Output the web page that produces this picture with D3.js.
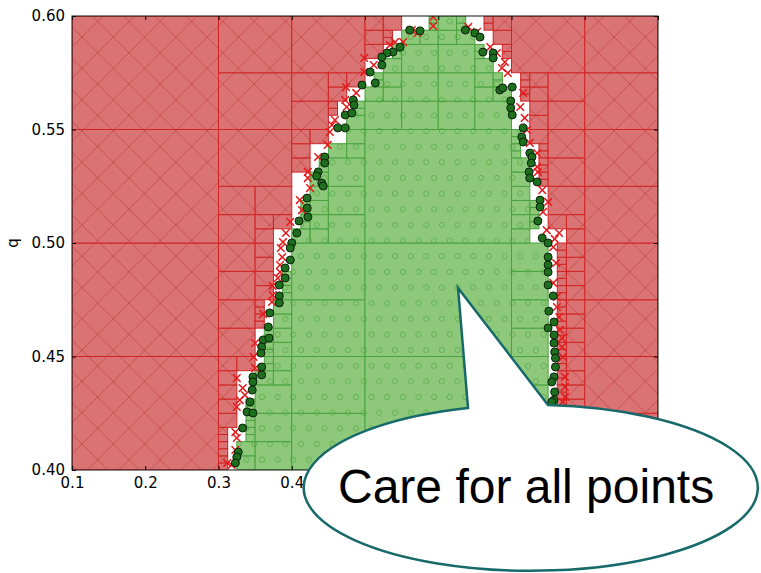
<!DOCTYPE html>
<html>
<head>
<meta charset="utf-8">
<script src="https://cdn.jsdelivr.net/npm/d3@7/dist/d3.min.js"></script>
<style>
  html, body { margin: 0; padding: 0; background: #fff; }
  svg { display: block; }
</style>
</head>
<body>
<svg id="chart" width="761" height="573"></svg>
<script>
/* Axis domains and ticks */
const xDomain = [0.1, 0.9]
const yDomain = [0.40, 0.60]
const xTicks = [0.1, 0.2, 0.3, 0.4, 0.5, 0.6, 0.7, 0.8, 0.9]
const yTicks = [0.40, 0.45, 0.50, 0.55, 0.60]
const yLabel = "q"
const calloutText = "Care for all points"

/* Refinement tree: root cell size and deepest level */
const rootSize = [0.2, 0.05]
const maxDepth = 4

/* Classified region per row (row height rowHeight, from q = 0.40 upward):
   red up to leftRedEnd, unresolved up to leftGreenStart, green up to rightGreenEnd,
   unresolved up to rightRedStart, red after that */
const rowHeight = 0.00625
const leftRedEnd = [0.3125, 0.3125, 0.3125, 0.325, 0.325, 0.325, 0.325, 0.35, 0.35, 0.35, 0.3625, 0.3625, 0.375, 0.375, 0.375, 0.375,
  0.375, 0.4, 0.4, 0.4, 0.4, 0.425, 0.425, 0.45, 0.45, 0.4625, 0.475, 0.5, 0.5, 0.525, 0.5375, 0.55]
const leftGreenStart = [0.325, 0.325, 0.3375, 0.3375, 0.3375, 0.35, 0.35, 0.3625, 0.3625, 0.3625, 0.375, 0.375, 0.3875, 0.3875, 0.4, 0.4,
  0.4, 0.4125, 0.4125, 0.425, 0.425, 0.4375, 0.45, 0.475, 0.475, 0.4875, 0.5, 0.5125, 0.525, 0.5375, 0.55, 0.5875]
const rightGreenEnd = [0.75, 0.75, 0.75, 0.75, 0.75, 0.75, 0.75, 0.75, 0.75, 0.75, 0.75, 0.75, 0.75, 0.75, 0.75, 0.75,
  0.725, 0.7375, 0.7375, 0.725, 0.725, 0.725, 0.7125, 0.7125, 0.7, 0.7, 0.7, 0.6875, 0.675, 0.6625, 0.65, 0.6375]
const rightRedStart = [0.7625, 0.7625, 0.7625, 0.7625, 0.7625, 0.7625, 0.7625, 0.7625, 0.7625, 0.7625, 0.7625, 0.7625, 0.7625, 0.7625, 0.7625, 0.7625,
  0.775, 0.75, 0.75, 0.75, 0.7375, 0.7375, 0.7375, 0.725, 0.725, 0.725, 0.7125, 0.7125, 0.7, 0.6875, 0.675, 0.6625]

/* Samples close to the boundary */
const feasiblePoints = [
  [0.561, 0.5938], [0.575, 0.5934], [0.548, 0.5863], [0.538, 0.5841], [0.530, 0.5837], [0.523, 0.5819], [0.523, 0.5784],
  [0.637, 0.5938], [0.650, 0.5925], [0.657, 0.5907], [0.661, 0.5841], [0.675, 0.5837], [0.675, 0.5815],
  [0.684, 0.5674], [0.688, 0.5683], [0.701, 0.5687], [0.699, 0.5626], [0.699, 0.5595], [0.701, 0.5564],
  [0.716, 0.5507], [0.714, 0.5467], [0.716, 0.5445], [0.725, 0.5396], [0.728, 0.5379],
  [0.514, 0.5705], [0.496, 0.5696], [0.484, 0.5630], [0.485, 0.5608], [0.473, 0.5564], [0.482, 0.5573],
  [0.463, 0.5507], [0.473, 0.5507], [0.445, 0.5379], [0.507, 0.5753],
  [0.445, 0.5352], [0.436, 0.5313], [0.434, 0.5295], [0.441, 0.5264], [0.443, 0.5251],
  [0.421, 0.5198], [0.421, 0.5154], [0.422, 0.5115], [0.410, 0.5097], [0.407, 0.5044],
  [0.400, 0.5000], [0.398, 0.4978], [0.398, 0.4925], [0.391, 0.4890], [0.391, 0.4846],
  [0.383, 0.4815], [0.383, 0.4767], [0.383, 0.4736], [0.370, 0.4692],
  [0.368, 0.4630], [0.361, 0.4573], [0.369, 0.4581], [0.359, 0.4542], [0.358, 0.4515],
  [0.359, 0.4454], [0.359, 0.4419], [0.347, 0.4410], [0.347, 0.4388], [0.346, 0.4352],
  [0.343, 0.4300], [0.339, 0.4256], [0.347, 0.4251], [0.333, 0.4185], [0.327, 0.4079], [0.325, 0.4057], [0.323, 0.4031],
  [0.727, 0.5352], [0.724, 0.5313], [0.725, 0.5286], [0.735, 0.5269], [0.739, 0.5189], [0.739, 0.5159],
  [0.736, 0.5097], [0.742, 0.5022], [0.750, 0.5000], [0.750, 0.4938], [0.750, 0.4903], [0.750, 0.4872],
  [0.750, 0.4815], [0.757, 0.4767], [0.751, 0.4700],
  [0.758, 0.4652], [0.750, 0.4626], [0.758, 0.4595], [0.758, 0.4559], [0.759, 0.4520], [0.760, 0.4493],
  [0.760, 0.4454], [0.758, 0.4410], [0.755, 0.4388], [0.759, 0.4344], [0.758, 0.4308], [0.755, 0.4300]
]
const infeasiblePoints = [
  [0.564, 0.5938], [0.572, 0.5925], [0.552, 0.5885], [0.593, 0.5956], [0.593, 0.5996],
  [0.641, 0.5952], [0.653, 0.5930], [0.671, 0.5863], [0.680, 0.5837], [0.691, 0.5797], [0.687, 0.5771], [0.695, 0.5749],
  [0.716, 0.5661], [0.712, 0.5599], [0.718, 0.5551], [0.721, 0.5498], [0.725, 0.5441], [0.735, 0.5396],
  [0.499, 0.5815], [0.512, 0.5784], [0.499, 0.5753], [0.474, 0.5687], [0.488, 0.5661], [0.473, 0.5630], [0.475, 0.5599],
  [0.459, 0.5542], [0.455, 0.5520], [0.452, 0.5489], [0.449, 0.5432], [0.436, 0.5379], [0.534, 0.5872], [0.541, 0.5885],
  [0.422, 0.5313], [0.422, 0.5286], [0.425, 0.5242], [0.411, 0.5189], [0.414, 0.5145], [0.398, 0.5093],
  [0.392, 0.5044], [0.388, 0.5004], [0.385, 0.4978], [0.387, 0.4938], [0.384, 0.4903], [0.384, 0.4872],
  [0.381, 0.4846], [0.374, 0.4811], [0.374, 0.4771], [0.373, 0.4740], [0.361, 0.4687],
  [0.350, 0.4559], [0.348, 0.4498], [0.350, 0.4449], [0.325, 0.4405], [0.333, 0.4361], [0.336, 0.4330],
  [0.329, 0.4308], [0.325, 0.4278], [0.323, 0.4167], [0.325, 0.4141], [0.323, 0.4088], [0.312, 0.4031], [0.318, 0.4022],
  [0.735, 0.5335], [0.736, 0.5313], [0.742, 0.5233], [0.750, 0.5181], [0.743, 0.5137], [0.748, 0.5057],
  [0.765, 0.5044], [0.759, 0.5018], [0.757, 0.4982], [0.761, 0.4912], [0.757, 0.4824], [0.762, 0.4762],
  [0.762, 0.4718], [0.765, 0.4674], [0.766, 0.4617], [0.769, 0.4581], [0.769, 0.4542], [0.770, 0.4498],
  [0.773, 0.4410], [0.773, 0.4366], [0.773, 0.4322], [0.770, 0.4300]
]

/* Callout tip, in data units */
const calloutTip = [0.627, 0.4802]

/* Chart dimensions etc. */
const width = 761
const height = 573
const marginTop = 16
const marginRight = 103
const marginBottom = 103
const marginLeft = 72

/* Speech bubble outline (pixels) */
const bubble = { cx: 534, cy: 488, rx: 227, ry: 83, right: [548, 405], left: [468, 408] }
const underBubble = (px, py) => ((px - bubble.cx) / bubble.rx) ** 2 + ((py - bubble.cy) / bubble.ry) ** 2 < 1

const svg = d3.select("#chart")
const x = d3.scaleLinear(xDomain, [marginLeft, width - marginRight])
const y = d3.scaleLinear(yDomain, [height - marginBottom, marginTop])

/* Which classes lie inside a rectangle */
function classesIn(x0, x1, y0, y1) {
  const eps = 1e-9
  const found = new Set()
  const k0 = Math.floor((y0 - yDomain[0]) / rowHeight + eps)
  const k1 = Math.ceil((y1 - yDomain[0]) / rowHeight - eps)
  for (let k = k0; k < k1; k++) {
    const spans = [
      ["red", xDomain[0], leftRedEnd[k]],
      ["white", leftRedEnd[k], leftGreenStart[k]],
      ["green", leftGreenStart[k], rightGreenEnd[k]],
      ["white", rightGreenEnd[k], rightRedStart[k]],
      ["red", rightRedStart[k], xDomain[1]]
    ]
    for (const [c, a, b] of spans) {
      if (b - a > eps && a < x1 - eps && b > x0 + eps) found.add(c)
    }
  }
  return found
}

/* Split cells until each holds one class */
const cells = []
function refine(x0, x1, y0, y1, depth) {
  const cls = classesIn(x0, x1, y0, y1)
  if (cls.size === 1 || depth === maxDepth) {
    cells.push({ x0, x1, y0, y1, state: cls.size === 1 ? [...cls][0] : "white" })
    return
  }
  const xm = (x0 + x1) / 2, ym = (y0 + y1) / 2
  refine(x0, xm, y0, ym, depth + 1)
  refine(xm, x1, y0, ym, depth + 1)
  refine(x0, xm, ym, y1, depth + 1)
  refine(xm, x1, ym, y1, depth + 1)
}
for (let cx = xDomain[0]; cx < xDomain[1] - 1e-9; cx += rootSize[0]) {
  for (let cy = yDomain[0]; cy < yDomain[1] - 1e-9; cy += rootSize[1]) {
    refine(cx, cx + rootSize[0], cy, cy + rootSize[1], 0)
  }
}

/* Hatch patterns */
const defs = svg.append("defs")
const hatch = 31.3
const red = defs.append("pattern")
  .attr("id", "hatch-x")
  .attr("patternUnits", "userSpaceOnUse")
  .attr("x", 395).attr("y", 131)
  .attr("width", hatch).attr("height", hatch)
red.append("rect").attr("width", hatch).attr("height", hatch).attr("fill", "#da7373")
red.append("path")
  .attr("d", `M0,0L${hatch},${hatch}M0,${hatch}L${hatch},0`)
  .attr("stroke", "#c03838")
  .attr("stroke-opacity", 0.65)
  .attr("stroke-width", 0.9)

const green = defs.append("pattern")
  .attr("id", "hatch-o")
  .attr("patternUnits", "userSpaceOnUse")
  .attr("x", 395).attr("y", 131)
  .attr("width", hatch / 2).attr("height", hatch)
green.append("rect").attr("width", hatch / 2).attr("height", hatch).attr("fill", "#8ec97b")
green.selectAll("circle")
  .data([[0, 0], [hatch / 2, 0], [0, hatch], [hatch / 2, hatch], [hatch / 4, hatch / 2]])
  .join("circle")
  .attr("cx", d => d[0]).attr("cy", d => d[1]).attr("r", 2.6)
  .attr("fill", "none")
  .attr("stroke", "#5fae50")
  .attr("stroke-width", 0.9)

defs.append("clipPath")
  .attr("id", "cut-graph")
  .append("rect")
  .attr("x", marginLeft).attr("y", marginTop)
  .attr("width", width - marginLeft - marginRight)
  .attr("height", height - marginTop - marginBottom)

/* Cells */
const fills = { red: "url(#hatch-x)", green: "url(#hatch-o)" }
const edges = { red: "#d02424", green: "#48a23d" }
svg.append("g")
  .attr("clip-path", "url(#cut-graph)")
  .selectAll("rect")
  .data(cells.filter(c => c.state !== "white"))
  .join("rect")
  .attr("x", d => x(d.x0))
  .attr("y", d => y(d.y1))
  .attr("width", d => x(d.x1) - x(d.x0))
  .attr("height", d => y(d.y0) - y(d.y1))
  .attr("fill", d => fills[d.state])
  .attr("stroke", d => edges[d.state])
  .attr("stroke-width", 1)

/* Samples */
const marks = svg.append("g").attr("clip-path", "url(#cut-graph)")
marks.selectAll("path")
  .data(infeasiblePoints)
  .join("path")
  .attr("transform", d => `translate(${x(d[0])},${y(d[1])})`)
  .attr("d", "M-3.8,-3.8L3.8,3.8M-3.8,3.8L3.8,-3.8")
  .attr("stroke", "#e41a1c")
  .attr("stroke-width", 1.5)
marks.selectAll("circle")
  .data(feasiblePoints)
  .join("circle")
  .attr("cx", d => x(d[0]))
  .attr("cy", d => y(d[1]))
  .attr("r", 4)
  .attr("fill", "#1d6e1d")
  .attr("stroke", "#0b1f0b")
  .attr("stroke-width", 1)

/* Axes: classic inward ticks on all four sides; labels hidden by the bubble are left empty */
const tickFont = "15px 'DejaVu Sans', sans-serif"
const xLabelY = height - marginBottom + 12
svg.append("g")
  .attr("transform", `translate(0,${height - marginBottom})`)
  .call(d3.axisBottom(x).tickValues(xTicks)
    .tickFormat(d => underBubble(x(d), xLabelY) ? "" : d3.format(".1f")(d))
    .tickSizeInner(-4).tickSizeOuter(0).tickPadding(7.5))
  .call(g => g.select(".domain").remove())
  .call(g => g.selectAll(".tick text").style("font", tickFont).attr("fill", "#000"))
svg.append("g")
  .attr("transform", `translate(0,${marginTop})`)
  .call(d3.axisTop(x).tickValues(xTicks).tickFormat("").tickSizeInner(-4).tickSizeOuter(0))
  .call(g => g.select(".domain").remove())
svg.append("g")
  .attr("transform", `translate(${marginLeft},0)`)
  .call(d3.axisLeft(y).tickValues(yTicks).tickFormat(d3.format(".2f")).tickSizeInner(-4).tickSizeOuter(0).tickPadding(7))
  .call(g => g.select(".domain").remove())
  .call(g => g.selectAll(".tick text").style("font", tickFont).attr("fill", "#000"))
svg.append("g")
  .attr("transform", `translate(${width - marginRight},0)`)
  .call(d3.axisRight(y).tickValues(yTicks).tickFormat("").tickSizeInner(-4).tickSizeOuter(0))
  .call(g => g.select(".domain").remove())

svg.append("rect")
  .attr("x", marginLeft).attr("y", marginTop)
  .attr("width", width - marginLeft - marginRight)
  .attr("height", height - marginTop - marginBottom)
  .attr("fill", "none")
  .attr("stroke", "#111")
  .attr("stroke-width", 1)

svg.append("text")
  .attr("transform", `translate(18,${y(0.5)}) rotate(-90)`)
  .attr("text-anchor", "middle")
  .style("font", tickFont)
  .text(yLabel)

/* Speech bubble */
svg.append("path")
  .attr("d", `M${bubble.right[0]},${bubble.right[1]}` +
    `A${bubble.rx},${bubble.ry} 0 1 1 ${bubble.left[0]},${bubble.left[1]}` +
    `L${x(calloutTip[0])},${y(calloutTip[1])}Z`)
  .attr("fill", "#fff")
  .attr("stroke", "#17696a")
  .attr("stroke-width", 2.5)
  .attr("stroke-linejoin", "miter")

svg.append("text")
  .attr("x", 338)
  .attr("y", 503)
  .style("font", "48px 'Liberation Sans', Arial, sans-serif")
  .attr("fill", "#000")
  .text(calloutText)
</script>
</body>
</html>
